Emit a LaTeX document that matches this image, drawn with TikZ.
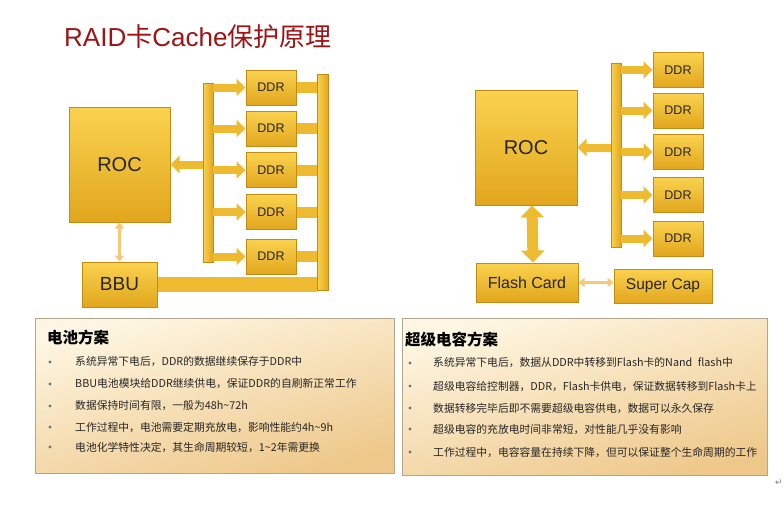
\documentclass[tikz,border=0pt]{standalone}
\usepackage{fontspec}
\setmainfont{Liberation Sans}
\newfontfamily\cjk{Noto Sans CJK SC}
\newfontfamily\symfont{DejaVu Sans}
\usetikzlibrary{arrows.meta,positioning,calc}
\definecolor{goldtop}{RGB}{250,210,78}
\definecolor{goldbot}{RGB}{226,166,30}
\definecolor{goldedge}{RGB}{196,138,18}
\definecolor{goldbar}{RGB}{238,186,48}
\definecolor{lightarrow}{RGB}{246,200,120}
\definecolor{titlered}{RGB}{158,20,20}
\definecolor{paneltop}{RGB}{254,246,226}
\definecolor{panelbot}{RGB}{238,200,138}
\definecolor{paneledge}{RGB}{180,165,140}
\definecolor{bulgray}{RGB}{105,115,135}

\begin{document}
\begin{tikzpicture}
    [x=1pt,y=-1pt,
     chip/.style={rectangle, draw=goldedge, line width=1pt, top color=goldtop, bottom color=goldbot, inner sep=0pt, text=black!85},
     bus/.style={rectangle, draw=goldedge, line width=0.8pt, left color=goldtop, right color=goldbot, inner sep=0pt, minimum width=10pt},
     ddr/.style={chip, minimum width=50pt, minimum height=35pt, font=\fontsize{12.5}{12}\selectfont},
     feed/.style={draw=goldbar, line width=8pt, -{Triangle[width=17pt,length=9pt]}},
     link/.style={draw=goldbar, line width=11pt},
     tinyarrow/.style={draw=lightarrow, line width=3pt, {Triangle[width=9pt,length=6pt]}-{Triangle[width=9pt,length=6pt]}},
     panel/.style={rectangle, draw=paneledge, line width=1.2pt, top color=paneltop, bottom color=panelbot, shading angle=15, inner sep=0pt},
     txt/.style={anchor=west, inner sep=0pt, text=black!85, font=\cjk\fontsize{10.8}{12}\selectfont},
     head/.style={anchor=west, inner sep=0pt, font=\cjk\bfseries\fontsize{15.5}{16}\selectfont}]
    \useasboundingbox (0,0) rectangle (784,512);
    \fill[white] (0,0) rectangle (784,512);

    % title
    \node[text=titlered, font=\fontsize{26}{26}\selectfont, anchor=west, inner sep=0pt] (title) at (64,37) {RAID{\cjk 卡}Cache{\cjk 保护原理}};

    % battery scheme
    \node[chip, minimum width=101pt, minimum height=115pt, font=\fontsize{20}{20}\selectfont] (rocL) at (119.5,164.5) {ROC};
    \node[chip, minimum width=75pt, minimum height=45pt, font=\fontsize{19}{19}\selectfont] (bbu) at (119.5,284.5) {BBU};
    \node[bus, minimum height=179pt] (busL) at (208,172.5) {};
    \node[bus, minimum width=11pt, minimum height=216pt] (railL) at (322.5,182) {};
    \node[ddr] (ddrL1) at (271,87.5) {DDR};
    \node[ddr] (ddrL2) at (271,128.5) {DDR};
    \node[ddr] (ddrL3) at (271,170) {DDR};
    \node[ddr] (ddrL4) at (271,212) {DDR};
    \node[ddr] (ddrL5) at (271,256.5) {DDR};
    \draw[feed] (busL.west |- rocL.east) -- (rocL.east);
    \draw[feed] (busL.east |- ddrL1.west) -- (ddrL1.west);
    \draw[feed] (busL.east |- ddrL2.west) -- (ddrL2.west);
    \draw[feed] (busL.east |- ddrL3.west) -- (ddrL3.west);
    \draw[feed] (busL.east |- ddrL4.west) -- (ddrL4.west);
    \draw[feed] (busL.east |- ddrL5.west) -- (ddrL5.west);
    \draw[link] (ddrL1.east) -- (railL.west |- ddrL1.east);
    \draw[link] (ddrL2.east) -- (railL.west |- ddrL2.east);
    \draw[link] (ddrL3.east) -- (railL.west |- ddrL3.east);
    \draw[link] (ddrL4.east) -- (railL.west |- ddrL4.east);
    \draw[link] (ddrL5.east) -- (railL.west |- ddrL5.east);
    \draw[link, line width=15pt] (bbu.east) -- (railL.west |- bbu.east);
    \draw[tinyarrow] (rocL.south) -- (bbu.north);

    % super capacitor scheme
    \node[chip, minimum width=102pt, minimum height=115pt, font=\fontsize{20}{20}\selectfont] (rocR) at (526,147.5) {ROC};
    \node[bus, minimum height=184pt] (busR) at (616,155) {};
    \node[ddr] (ddrR1) at (678,70) {DDR};
    \node[ddr] (ddrR2) at (678,110.5) {DDR};
    \node[ddr] (ddrR3) at (678,152) {DDR};
    \node[ddr] (ddrR4) at (678,195) {DDR};
    \node[ddr] (ddrR5) at (678,238.5) {DDR};
    \node[chip, minimum width=102pt, minimum height=39pt, font=\fontsize{16}{16}\selectfont] (flash) at (527,282.5) {Flash Card};
    \node[chip, minimum width=98pt, minimum height=34pt, font=\fontsize{15.5}{16}\selectfont] (scap) at (663,286) {Super Cap};
    \draw[feed] (busR.west |- rocR.east) -- (rocR.east);
    \draw[feed] (busR.east |- ddrR1.west) -- (ddrR1.west);
    \draw[feed] (busR.east |- ddrR2.west) -- (ddrR2.west);
    \draw[feed] (busR.east |- ddrR3.west) -- (ddrR3.west);
    \draw[feed] (busR.east |- ddrR4.west) -- (ddrR4.west);
    \draw[feed] (busR.east |- ddrR5.west) -- (ddrR5.west);
    \draw[draw=goldbar, line width=11pt, {Triangle[width=23pt,length=12pt]}-{Triangle[width=23pt,length=12pt]}] ([xshift=6pt]rocR.south) -- ([xshift=6pt]flash.north);
    \draw[tinyarrow] (flash.east) -- (flash.east -| scap.west);

    % text panels
    \node[panel, minimum width=359pt, minimum height=155pt, anchor=north west] (panelL) at (35,318) {};
    \node[panel, minimum width=365pt, minimum height=157pt, anchor=north west] (panelR) at (402,318) {};
    \node[head] (headL) at (47,338) {电池方案};
    \node[head] (headR) at (405,340) {超级电容方案};

    \node[txt] (bl1) at (75,362) {系统异常下电后，DDR的数据继续保存于DDR中};
    \node[txt] (bl2) at (75,384) {BBU电池模块给DDR继续供电，保证DDR的自刷新正常工作};
    \node[txt] (bl3) at (75,406) {数据保持时间有限，一般为48h\textasciitilde72h};
    \node[txt] (bl4) at (75,427) {工作过程中，电池需要定期充放电，影响性能约4h\textasciitilde9h};
    \node[txt] (bl5) at (75,447) {电池化学特性决定，其生命周期较短，1\textasciitilde2年需更换};
    \fill[bulgray] (50,362) circle (1.7pt) (50,384) circle (1.7pt) (50,406) circle (1.7pt)
                   (50,427) circle (1.7pt) (50,447) circle (1.7pt);

    \node[txt] (br1) at (433,363) {系统异常下电后，数据从DDR中转移到Flash卡的Nand\enspace flash中};
    \node[txt] (br2) at (433,386) {超级电容给控制器，DDR，Flash卡供电，保证数据转移到Flash卡上};
    \node[txt] (br3) at (433,408) {数据转移完毕后即不需要超级电容供电，数据可以永久保存};
    \node[txt] (br4) at (433,429) {超级电容的充放电时间非常短，对性能几乎没有影响};
    \node[txt] (br5) at (433,452) {工作过程中，电容容量在持续下降，但可以保证整个生命周期的工作};
    \fill[bulgray] (410,363) circle (1.7pt) (410,386) circle (1.7pt) (410,408) circle (1.7pt)
                   (410,429) circle (1.7pt) (410,452) circle (1.7pt);

    \node[text=gray, font=\symfont\fontsize{9}{9}\selectfont, inner sep=0pt] (ret) at (779,483) {↵};
\end{tikzpicture}
\end{document}
